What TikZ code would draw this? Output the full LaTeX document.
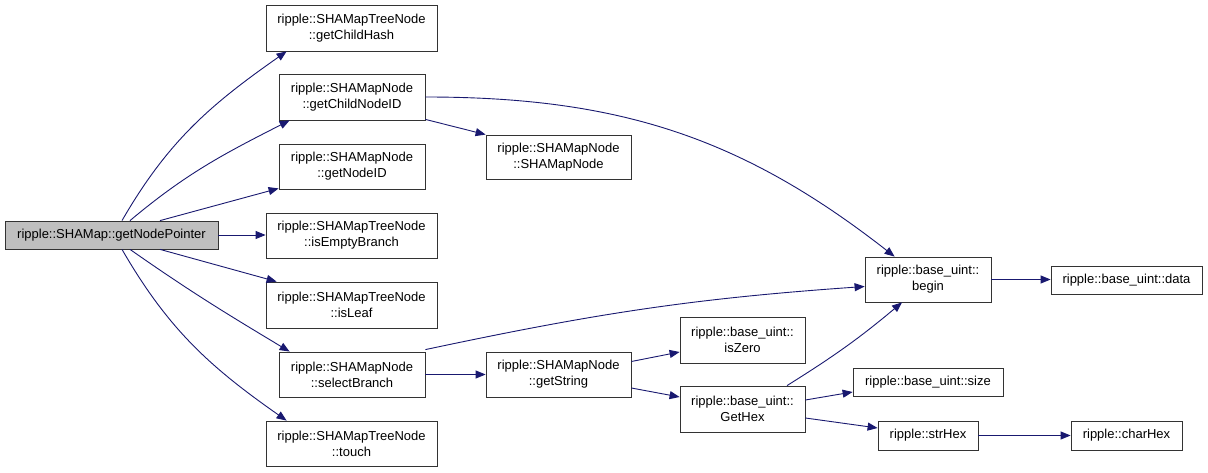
\documentclass[tikz,border=0pt]{standalone}
\usepackage{fontspec}
\setmainfont{Liberation Sans}
\usetikzlibrary{arrows.meta}
\definecolor{edgec}{HTML}{191970}
\definecolor{rootfill}{HTML}{BFBFBF}
\tikzset{
  box/.style={draw=black!80, line width=0.8pt, align=center, inner sep=0pt,
    font=\fontsize{13}{16}\selectfont},
  conn/.style={draw=edgec, line width=0.9pt, -{Triangle[length=10pt,width=8pt]}}
}
\begin{document}
\begin{tikzpicture}[x=1pt,y=1pt]
\useasboundingbox (0,0) rectangle (1208,472);
\fill[white] (0,0) rectangle (1208,472);
% nodes
\node[box, fill=rootfill, minimum width=213pt, minimum height=28pt] (root) at (111.5,237) {ripple::SHAMap::getNodePointer};
\node[box, minimum width=171pt, minimum height=46pt] (gch) at (351.5,444) {ripple::SHAMapTreeNode\\::getChildHash};
\node[box, minimum width=146pt, minimum height=46pt] (gcnid) at (352,375) {ripple::SHAMapNode\\::getChildNodeID};
\node[box, minimum width=146pt, minimum height=45pt] (gnid) at (352,305.5) {ripple::SHAMapNode\\::getNodeID};
\node[box, minimum width=171pt, minimum height=45pt] (ieb) at (351.5,236.5) {ripple::SHAMapTreeNode\\::isEmptyBranch};
\node[box, minimum width=171pt, minimum height=46pt] (leaf) at (351.5,167) {ripple::SHAMapTreeNode\\::isLeaf};
\node[box, minimum width=146pt, minimum height=45pt] (sel) at (352,97.5) {ripple::SHAMapNode\\::selectBranch};
\node[box, minimum width=171pt, minimum height=45pt] (touch) at (351.5,28.5) {ripple::SHAMapTreeNode\\::touch};
\node[box, minimum width=145pt, minimum height=44pt] (smn) at (558.5,315) {ripple::SHAMapNode\\::SHAMapNode};
\node[box, minimum width=145pt, minimum height=45pt] (gstr) at (558.5,97.5) {ripple::SHAMapNode\\::getString};
\node[box, minimum width=125pt, minimum height=46pt] (zero) at (742.5,132) {ripple::base\_uint::\\isZero};
\node[box, minimum width=125pt, minimum height=46pt] (ghex) at (742.5,63) {ripple::base\_uint::\\GetHex};
\node[box, minimum width=126pt, minimum height=45pt] (begin) at (928,192.5) {ripple::base\_uint::\\begin};
\node[box, minimum width=151pt, minimum height=28pt] (data) at (1126.5,192) {ripple::base\_uint::data};
\node[box, minimum width=150pt, minimum height=28pt] (size) at (928,90) {ripple::base\_uint::size};
\node[box, minimum width=100pt, minimum height=29pt] (strhex) at (928,36.5) {ripple::strHex};
\node[box, minimum width=111pt, minimum height=29pt] (charhex) at (1126.5,36.5) {ripple::charHex};
% edges
\draw[conn] ([xshift=10.5pt]root.north) to[out=60,in=215] ([xshift=21pt]gch.south west);
\draw[conn] ([xshift=18.5pt]root.north) to[out=40,in=207] ([xshift=11pt]gcnid.south west);
\draw[conn] ([xshift=48.5pt]root.north) -- ([yshift=1pt]gnid.south west);
\draw[conn] (root.east) -- (root.east -| ieb.west);
\draw[conn] ([xshift=48.5pt]root.south) -- ([xshift=11pt]leaf.north west);
\draw[conn] ([xshift=18.5pt]root.south) to[out=-35,in=149] ([xshift=11pt]sel.north west);
\draw[conn] ([xshift=10.5pt]root.south) to[out=-60,in=145] ([xshift=21pt]touch.north west);
\draw[conn] ([yshift=1pt]gcnid.south east) -- (smn.north west);
\draw[conn] (gcnid.east) to[out=0,in=142] ([xshift=30pt]begin.north west);
\draw[conn] ([yshift=2pt]sel.north east) to[out=12,in=184] ([yshift=-7pt]begin.west);
\draw[conn] (sel.east) -- (gstr.west);
\draw[conn] ([yshift=13pt]gstr.east) -- ([yshift=-12pt]zero.west);
\draw[conn] ([yshift=-13.5pt]gstr.east) -- ([yshift=12pt]ghex.west);
\draw[conn] ([xshift=44.5pt]ghex.north) to[out=32,in=220] ([xshift=-26pt]begin.south);
\draw[conn] ([yshift=9pt]ghex.east) -- ([yshift=-10pt]size.west);
\draw[conn] ([yshift=-9pt]ghex.east) -- ([yshift=7.5pt]strhex.west);
\draw[conn] (begin.east) -- (begin.east -| data.west);
\draw[conn] (strhex.east) -- (charhex.west);
\end{tikzpicture}
\end{document}
